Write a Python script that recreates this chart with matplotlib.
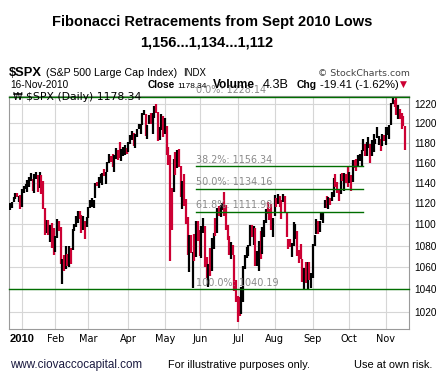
import matplotlib
matplotlib.use("Agg")
import matplotlib.pyplot as plt
from matplotlib.ticker import FixedLocator, NullLocator, FixedFormatter

# trading days per month (day numbers)
month_days = {
    (2009, 12): [22, 23, 24, 28, 29, 30, 31],
    (2010, 1): [4, 5, 6, 7, 8, 11, 12, 13, 14, 15, 19, 20, 21, 22, 25, 26, 27, 28, 29],
    (2010, 2): [1, 2, 3, 4, 5, 8, 9, 10, 11, 12, 16, 17, 18, 19, 22, 23, 24, 25, 26],
    (2010, 3): [1, 2, 3, 4, 5, 8, 9, 10, 11, 12, 15, 16, 17, 18, 19, 22, 23, 24, 25, 26, 29, 30, 31],
    (2010, 4): [1, 5, 6, 7, 8, 9, 12, 13, 14, 15, 16, 19, 20, 21, 22, 23, 26, 27, 28, 29, 30],
    (2010, 5): [3, 4, 5, 6, 7, 10, 11, 12, 13, 14, 17, 18, 19, 20, 21, 24, 25, 26, 27, 28],
    (2010, 6): [1, 2, 3, 4, 7, 8, 9, 10, 11, 14, 15, 16, 17, 18, 21, 22, 23, 24, 25, 28, 29, 30],
    (2010, 7): [1, 2, 6, 7, 8, 9, 12, 13, 14, 15, 16, 19, 20, 21, 22, 23, 26, 27, 28, 29, 30],
    (2010, 8): [2, 3, 4, 5, 6, 9, 10, 11, 12, 13, 16, 17, 18, 19, 20, 23, 24, 25, 26, 27, 30, 31],
    (2010, 9): [1, 2, 3, 7, 8, 9, 10, 13, 14, 15, 16, 17, 20, 21, 22, 23, 24, 27, 28, 29, 30],
    (2010, 10): [1, 4, 5, 6, 7, 8, 11, 12, 13, 14, 15, 18, 19, 20, 21, 22, 25, 26, 27, 28, 29],
    (2010, 11): [1, 2, 3, 4, 5, 8, 9, 10, 11, 12, 15, 16],
}

closes = [
    1118.0, 1120.6, 1126.5, 1127.8, 1126.2, 1126.4, 1115.1,
    1133.0, 1136.5, 1137.1, 1141.7, 1145.0, 1147.0, 1136.2, 1145.7, 1148.5, 1136.0, 1150.2, 1138.0, 1116.5,
    1091.8, 1096.8, 1092.2, 1097.5, 1084.5, 1073.9,
    1089.2, 1103.3, 1097.3, 1063.1, 1066.2, 1056.7, 1070.5, 1068.1, 1078.5, 1075.5, 1094.9, 1099.5, 1106.8,
    1109.2, 1108.0, 1094.6, 1105.2, 1102.9, 1104.5,
    1115.7, 1118.3, 1118.8, 1123.0, 1138.7, 1138.5, 1140.5, 1145.6, 1150.2, 1150.0, 1150.5, 1159.5, 1166.2,
    1165.8, 1159.9, 1165.8, 1174.2, 1167.7, 1165.7, 1166.6, 1173.2, 1173.3, 1169.4,
    1178.1, 1187.4, 1189.4, 1182.5, 1186.4, 1194.4, 1196.5, 1197.3, 1210.7, 1211.7, 1192.1, 1197.5, 1207.2,
    1205.9, 1208.7, 1217.3, 1212.1, 1183.7, 1191.4, 1206.8, 1186.7,
    1202.3, 1173.6, 1165.9, 1128.2, 1110.9, 1159.7, 1155.8, 1171.7, 1157.4, 1135.7, 1136.9, 1120.8, 1115.1,
    1071.6, 1087.7, 1073.7, 1074.0, 1068.0, 1103.1, 1089.4,
    1070.7, 1098.4, 1102.8, 1064.9, 1050.5, 1062.0, 1055.7, 1086.8, 1091.6, 1089.6, 1115.2, 1114.6, 1116.0,
    1117.5, 1113.2, 1095.3, 1092.0, 1073.7, 1076.8, 1074.6, 1041.2, 1030.7,
    1027.4, 1022.6, 1028.1, 1060.3, 1070.3, 1078.0, 1078.8, 1095.3, 1095.2, 1096.5, 1064.9, 1071.3, 1083.5,
    1069.6, 1093.7, 1102.7, 1115.0, 1113.8, 1106.1, 1101.5, 1101.6,
    1125.9, 1120.5, 1127.2, 1125.8, 1121.6, 1127.8, 1121.1, 1089.5, 1083.6, 1079.3, 1079.4, 1092.5, 1094.2,
    1075.6, 1071.7, 1067.4, 1051.9, 1055.3, 1047.2, 1064.6, 1048.9, 1049.3,
    1080.3, 1090.1, 1104.5, 1091.8, 1098.9, 1104.2, 1109.6, 1121.9, 1121.1, 1125.1, 1124.7, 1125.6, 1142.7,
    1139.8, 1134.3, 1124.8, 1148.7, 1142.2, 1147.7, 1144.7, 1141.2,
    1146.2, 1137.0, 1160.8, 1160.0, 1158.1, 1165.2, 1165.3, 1169.8, 1178.1, 1173.8, 1176.2, 1184.7, 1165.9,
    1178.2, 1180.3, 1183.1, 1185.6, 1185.6, 1182.5, 1183.8, 1183.3,
    1184.4, 1193.6, 1198.0, 1221.1, 1225.9, 1223.3, 1213.4, 1218.7, 1213.5, 1199.2, 1197.8, 1178.3,
]

highs = [
    1120.0, 1121.0, 1126.5, 1130.0, 1130.0, 1127.0, 1128.0,
    1133.9, 1136.6, 1139.2, 1142.5, 1145.4, 1149.7, 1143.8, 1148.4, 1150.4, 1148.0, 1150.4, 1147.8, 1141.6,
    1115.5, 1103.7, 1103.7, 1099.2, 1101.0, 1096.5,
    1089.4, 1104.7, 1102.7, 1097.3, 1067.1, 1071.2, 1079.3, 1071.7, 1080.0, 1077.8, 1095.7, 1100.0, 1108.2,
    1112.4, 1112.3, 1108.6, 1107.5, 1103.5, 1107.2,
    1116.5, 1123.5, 1125.6, 1123.7, 1139.4, 1141.1, 1145.4, 1148.3, 1150.2, 1153.4, 1151.0, 1160.3, 1169.2,
    1167.1, 1169.2, 1167.8, 1174.7, 1173.0, 1180.7, 1173.5, 1175.4, 1177.8, 1174.9,
    1181.4, 1187.7, 1191.8, 1189.6, 1188.6, 1194.7, 1199.2, 1199.2, 1210.7, 1213.9, 1210.2, 1197.9, 1208.6,
    1210.9, 1211.0, 1217.8, 1219.8, 1211.4, 1195.9, 1209.4, 1207.6,
    1205.1, 1197.5, 1175.9, 1167.6, 1135.1, 1163.6, 1170.5, 1173.0, 1173.6, 1157.2, 1141.9, 1148.7, 1124.3,
    1107.3, 1090.2, 1089.9, 1074.0, 1090.8, 1103.5, 1102.9,
    1094.8, 1098.4, 1105.7, 1098.6, 1069.3, 1063.0, 1077.7, 1087.0, 1092.0, 1105.9, 1115.6, 1117.7, 1118.7,
    1120.1, 1131.2, 1118.5, 1099.6, 1088.8, 1083.6, 1080.9, 1071.6, 1048.1,
    1033.6, 1032.9, 1042.5, 1060.9, 1071.3, 1078.2, 1080.8, 1099.1, 1099.1, 1098.4, 1096.1, 1074.7, 1083.9,
    1094.1, 1097.5, 1103.7, 1115.0, 1121.0, 1115.0, 1119.1, 1106.4,
    1127.7, 1125.4, 1128.8, 1127.0, 1123.7, 1129.2, 1127.2, 1111.6, 1086.0, 1086.3, 1082.6, 1101.7, 1099.8,
    1093.4, 1075.6, 1081.6, 1067.4, 1059.4, 1064.4, 1065.2, 1064.6, 1055.1,
    1081.3, 1090.1, 1105.1, 1103.1, 1103.1, 1110.9, 1110.3, 1123.4, 1127.4, 1126.5, 1125.4, 1131.5, 1144.4,
    1148.9, 1140.8, 1133.9, 1148.9, 1149.9, 1150.0, 1148.6, 1157.2,
    1150.3, 1148.2, 1162.8, 1162.3, 1163.9, 1167.7, 1168.7, 1172.6, 1184.4, 1178.9, 1181.2, 1185.5, 1178.8,
    1182.9, 1189.4, 1183.9, 1196.1, 1187.1, 1183.9, 1189.5, 1187.9,
    1195.8, 1195.9, 1198.3, 1221.3, 1227.1, 1224.6, 1226.8, 1218.8, 1215.5, 1210.5, 1207.4, 1197.7,
]

lows = [
    1114.0, 1116.0, 1121.0, 1124.0, 1126.0, 1121.0, 1115.0,
    1116.6, 1129.7, 1133.9, 1131.3, 1136.2, 1142.0, 1131.7, 1129.6, 1143.8, 1131.4, 1135.3, 1129.2, 1114.8,
    1090.2, 1091.4, 1089.9, 1083.1, 1077.8, 1071.6,
    1073.9, 1087.2, 1093.9, 1062.5, 1044.5, 1056.5, 1058.0, 1060.8, 1060.1, 1062.8, 1075.5, 1093.8, 1097.5,
    1100.8, 1105.4, 1092.2, 1094.3, 1086.0, 1097.6,
    1105.9, 1116.0, 1116.6, 1116.0, 1125.7, 1136.8, 1134.9, 1140.1, 1138.0, 1146.8, 1138.9, 1150.7, 1159.3,
    1161.2, 1155.3, 1150.7, 1163.8, 1163.0, 1165.1, 1161.4, 1166.6, 1167.6, 1168.3,
    1170.7, 1178.7, 1182.8, 1177.2, 1175.1, 1186.0, 1194.7, 1188.8, 1198.7, 1208.5, 1186.8, 1183.7, 1199.0,
    1198.9, 1188.6, 1205.1, 1211.1, 1181.6, 1182.7, 1193.4, 1186.3,
    1188.6, 1168.1, 1158.2, 1065.8, 1094.2, 1131.5, 1147.7, 1155.2, 1156.1, 1126.1, 1114.6, 1117.2, 1100.7,
    1071.6, 1055.9, 1072.7, 1040.8, 1065.6, 1069.0, 1084.1,
    1069.9, 1068.6, 1091.8, 1060.5, 1050.5, 1042.2, 1052.3, 1056.4, 1077.2, 1089.3, 1091.3, 1107.7, 1107.1,
    1113.2, 1108.2, 1094.2, 1085.3, 1071.0, 1067.9, 1071.5, 1038.5, 1028.3,
    1010.9, 1015.9, 1018.4, 1028.5, 1058.2, 1068.7, 1070.4, 1079.8, 1087.7, 1080.5, 1060.9, 1061.1, 1056.9,
    1067.4, 1072.0, 1087.9, 1101.3, 1109.8, 1104.1, 1095.0, 1088.0,
    1107.7, 1116.8, 1119.5, 1116.1, 1105.0, 1120.9, 1111.6, 1088.0, 1076.7, 1079.0, 1069.5, 1079.4, 1085.8,
    1070.5, 1063.9, 1067.1, 1046.7, 1039.8, 1045.9, 1039.7, 1048.8, 1040.9,
    1050.4, 1080.0, 1091.0, 1091.2, 1092.4, 1103.9, 1101.5, 1115.4, 1115.6, 1114.6, 1118.9, 1122.4, 1126.0,
    1136.2, 1130.5, 1122.4, 1129.4, 1142.0, 1132.1, 1140.2, 1136.1,
    1139.4, 1131.9, 1140.7, 1154.9, 1151.4, 1155.6, 1162.0, 1155.7, 1171.3, 1166.7, 1167.1, 1174.6, 1159.7,
    1166.7, 1171.2, 1178.6, 1184.8, 1177.7, 1171.7, 1177.1, 1182.3,
    1177.6, 1187.9, 1183.6, 1198.3, 1220.3, 1217.3, 1208.9, 1204.3, 1204.5, 1194.1, 1197.2, 1173.0,
]

fib_pcts = ["0.0%", "38.2%", "50.0%", "61.8%", "100.0%"]
fib_levels = [1228.14, 1156.34, 1134.16, 1111.98, 1040.19]
month_names = ["2010", "Feb", "Mar", "Apr", "May", "Jun", "Jul", "Aug", "Sep", "Oct", "Nov"]
y_ticks = [1020, 1040, 1060, 1080, 1100, 1120, 1140, 1160, 1180, 1200, 1220]

# build trading-day index and month start positions
month_starts = []
n = 0
for (yr, mo), days in month_days.items():
    if yr == 2010:
        month_starts.append(n)
    n += len(days)
x = list(range(n))

RED = "#cc0033"
GREEN = "#006e00"
colors = ["black"] + [RED if closes[i] < closes[i - 1] else "black" for i in range(1, n)]

W, H = 448, 388
fig = plt.figure(figsize=(W / 100, H / 100), dpi=100)
fig.patch.set_facecolor("white")
renderer = fig.canvas.get_renderer()
ax = fig.add_axes([9 / W, 1 - 329 / H, 400 / W, 233 / H])

ax.set_yscale("log")
xmin, xmax = -0.6, n + 1.3
ax.set_xlim(xmin, xmax)
ax.set_ylim(1005, 1228.7)

# grid
for v in y_ticks:
    ax.axhline(v, color="#d6d6d6", lw=0.8, zorder=0)
for m in month_starts:
    ax.axvline(m, color="#d6d6d6", lw=0.8, zorder=0)

ax.vlines(x, lows, highs, colors=colors, lw=1.6, zorder=3)

# fibonacci lines
seg_start, seg_end = 107, 203
for pct, lvl in zip(fib_pcts, fib_levels):
    full = pct in ("0.0%", "100.0%")
    x0, x1 = (xmin, xmax) if full else (seg_start, seg_end)
    ax.plot([x0, x1], [lvl, lvl], color=GREEN, lw=1.0, zorder=4, clip_on=False)
    ax.text(seg_start, lvl * 1.0012, f"{pct}: {lvl:.2f}", color="#8a8a8a",
            fontsize=6.9, family="DejaVu Sans", va="bottom", ha="left", zorder=5, clip_on=False)

ax.text(0.01, 0.997, "₩", transform=ax.transAxes, fontsize=7.1, family="DejaVu Sans",
        va="center", ha="left", zorder=6)

ax.yaxis.tick_right()
ax.yaxis.set_major_locator(FixedLocator(y_ticks))
ax.yaxis.set_major_formatter(FixedFormatter([str(v) for v in y_ticks]))
ax.yaxis.set_minor_locator(NullLocator())
ax.tick_params(axis="y", length=0, pad=4, labelsize=7.2)
for lab in ax.get_yticklabels():
    lab.set_family("Liberation Sans")

ax.set_xticks(month_starts)
ax.set_xticklabels(month_names, fontsize=7, family="DejaVu Sans")
ax.get_xticklabels()[0].set_fontweight("bold")
ax.get_xticklabels()[0].set_family("Liberation Sans")
ax.get_xticklabels()[0].set_fontsize(8)
ax.tick_params(axis="x", length=0, pad=3.5)

for s in ax.spines.values():
    s.set_color("#9a9a9a")
    s.set_linewidth(0.8)


def ftext(px, py, s, width=None, **kw):
    # place text at pixel coords; optionally scale font to a pixel width
    t = fig.text(px / W, 1 - py / H, s, va="baseline", **kw)
    if width:
        bb = t.get_window_extent(renderer)
        t.set_fontsize(t.get_fontsize() * width / bb.width)
    return t


leg = ftext(26, 100, "$SPX (Daily) 1178.34", width=116, fontsize=7.1, family="DejaVu Sans")
leg.set_zorder(6)

# title
t1 = ftext(212, 26, "Fibonacci Retracements from Sept 2010 Lows", width=320, ha="center",
           fontsize=10, fontweight="bold", family="Liberation Sans")
ftext(207, 46.5, "1,156...1,134...1,112", ha="center",
      fontsize=t1.get_fontsize(), fontweight="bold", family="Liberation Sans")

# header rows
ftext(9, 76.5, "$SPX", width=33, fontsize=9.5, fontweight="bold", family="Liberation Sans")
ftext(46, 76.5, "(S&P 500 Large Cap Index)", width=131, fontsize=7.3, family="Liberation Sans")
ftext(183, 76.5, "INDX", width=23, fontsize=6.5, family="Liberation Sans")
ftext(318, 76.5, "© StockCharts.com", width=91, fontsize=7.2, family="DejaVu Sans", color="#444444")
ftext(10, 87.5, "16-Nov-2010", width=58, fontsize=6.6, family="Liberation Sans")
ftext(148, 87.5, "Close", width=27, fontsize=7.3, fontweight="bold", family="Liberation Sans")
ftext(177, 87.5, "1178.34", width=29, fontsize=6.6, family="Liberation Sans")
ftext(213, 87.5, "Volume", width=42, fontsize=7.6, fontweight="bold", family="Liberation Sans")
ftext(263, 87.5, "4.3B", width=26, fontsize=6.6, family="Liberation Sans")
ftext(297, 87.5, "Chg", width=20, fontsize=7.3, fontweight="bold", family="Liberation Sans")
ftext(320, 87.5, "-19.41 (-1.62%)", width=78, fontsize=6.6, family="Liberation Sans")
ftext(400, 86.5, "▼", width=7, fontsize=5, family="DejaVu Sans", color=RED)

# footer
ftext(10, 368, "www.ciovaccocapital.com", width=131, fontsize=7.4, family="Liberation Sans",
      color="#1a1a40")
ftext(168, 368, "For illustrative purposes only.", width=141, fontsize=7.4, family="Liberation Sans")
ftext(354, 368, "Use at own risk.", width=78, fontsize=7.4, family="Liberation Sans")

fig.savefig("out.png", dpi=100, facecolor="white")
